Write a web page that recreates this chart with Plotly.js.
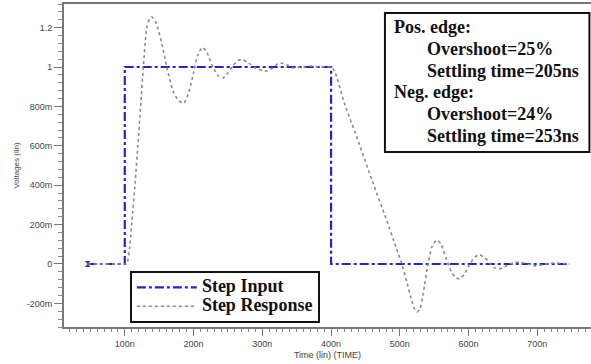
<!DOCTYPE html>
<html>
<head>
<meta charset="utf-8">
<script src="https://cdn.plot.ly/plotly-3.0.1.min.js"></script>
<style>html,body{margin:0;padding:0;background:#fff;}#chart{width:591px;height:364px;}</style>
</head>
<body>
<div id="chart"></div>
<script>
// Step input (time in ns, voltage in V)
const stepTime = [46, 100, 100, 400, 400, 747];
const stepVolt = [0, 0, 1, 1, 0, 0];

// Step response
const respTime = [46, 100, 103, 107, 110, 115, 119, 123, 127, 132, 136, 139.5, 146, 155, 163, 170, 178, 186,
  193, 200, 206, 213, 220, 228, 236, 243, 250, 258, 265, 272, 280, 290, 300, 307, 315, 322, 328, 336, 345,
  355, 370, 385, 400, 405, 420, 440, 460, 480, 495, 503, 510, 516, 521, 525, 529, 534, 541, 547, 554, 560,
  567, 575, 581, 587, 594, 602, 609, 616, 624, 632, 638, 645, 652, 660, 667, 674, 686, 699, 712, 725, 747];
const respVolt = [0, 0, 0, 0.08, 0.2, 0.41, 0.6, 0.8, 1.0, 1.2, 1.245, 1.254, 1.22, 1.1, 0.97, 0.88, 0.83, 0.817,
  0.87, 0.97, 1.06, 1.10, 1.07, 1.0, 0.955, 0.944, 0.97, 1.01, 1.034, 1.036, 1.02, 0.995, 0.982, 0.98, 0.995,
  1.015, 1.02, 1.01, 0.995, 1.0, 1.005, 1.0, 1.0, 0.98, 0.81, 0.62, 0.42, 0.23, 0.08, 0, -0.09, -0.17, -0.225,
  -0.244, -0.23, -0.15, 0, 0.09, 0.122, 0.1, 0.03, -0.04, -0.068, -0.076, -0.05, 0, 0.035, 0.046, 0.03, 0,
  -0.02, -0.025, -0.015, 0, 0.008, 0.01, 0, -0.01, 0, 0.005, 0];

const yTickVals = [-0.2, 0, 0.2, 0.4, 0.6, 0.8, 1, 1.2];
const yTickText = ['-200m', '0', '200m', '400m', '600m', '800m', '1', '1.2'];
const xTickVals = [100, 200, 300, 400, 500, 600, 700];
const xTickText = ['100n', '200n', '300n', '400n', '500n', '600n', '700n'];

const seriesNames = ['Step Input', 'Step Response'];
const infoLines = ['Pos. edge:', 'Overshoot=25%', 'Settling time=205ns', 'Neg. edge:', 'Overshoot=24%', 'Settling time=253ns'];
const infoIndent = [0, 1, 1, 0, 1, 1];

const serif = '"Liberation Serif", "DejaVu Serif", serif';
const big = s => '<span style="font-size:18px"><b>' + s + '</b></span>';

const traces = [
  {x: stepTime, y: stepVolt, name: big(seriesNames[0]), mode: 'lines',
   line: {color: '#2424c8', width: 2.2, dash: 'dashdot'}},
  {x: respTime, y: respVolt, name: big(seriesNames[1]), mode: 'lines',
   line: {color: '#8a8a8a', width: 1.6, dash: 'dot', shape: 'spline', smoothing: 0.6}},
  {x: [stepTime[0]], y: [stepVolt[0]], mode: 'markers', showlegend: false, hoverinfo: 'skip',
   marker: {symbol: 'hourglass', size: 6, color: '#3a3ad0'}}
];

const annotations = infoLines.map((t, i) => ({
  xref: 'paper', yref: 'paper',
  x: infoIndent[i] ? 0.685 : 0.622,
  y: [0.929, 0.861, 0.793, 0.727, 0.659, 0.591][i],
  xanchor: 'left', yanchor: 'middle', showarrow: false,
  text: '<b>' + t + '</b>', font: {family: serif, size: 18, color: '#111'}
}));

const layout = {
  width: 591, height: 364,
  margin: {l: 64, r: 0, t: 4, b: 37},
  paper_bgcolor: '#fff', plot_bgcolor: '#fff',
  showlegend: true,
  legend: {x: 0.125, y: 0.174, xanchor: 'left', yanchor: 'top',
    bgcolor: '#fff', bordercolor: '#111', borderwidth: 2,
    font: {family: serif, size: 12, color: '#111'},
    itemwidth: 60, tracegroupgap: 0},
  xaxis: {range: [11.6, 778], showgrid: false, zeroline: false,
    showline: true, linecolor: '#777', linewidth: 2, mirror: true,
    ticks: 'outside', ticklen: 7, tickcolor: '#777', tickwidth: 1,
    tickvals: xTickVals, ticktext: xTickText,
    minor: {dtick: 10, tick0: 0, ticks: 'outside', ticklen: 3, tickcolor: '#888', showgrid: false},
    tickfont: {family: 'Arial, Liberation Sans, sans-serif', size: 9, color: '#444'},
    title: {text: 'Time (lin) (TIME)', standoff: 4, font: {family: 'Arial, Liberation Sans, sans-serif', size: 9, color: '#444'}}},
  yaxis: {range: [-0.32, 1.32], showgrid: false, zeroline: false,
    showline: true, linecolor: '#777', linewidth: 2,
    ticks: 'outside', ticklen: 8, tickcolor: '#777', tickwidth: 1,
    tickvals: yTickVals, ticktext: yTickText,
    minor: {dtick: 0.04, tick0: 0, ticks: 'outside', ticklen: 4, tickcolor: '#888', showgrid: false},
    tickfont: {family: 'Arial, Liberation Sans, sans-serif', size: 9, color: '#444'},
    title: {text: 'Voltages (lin)', standoff: 6, font: {family: 'Arial, Liberation Sans, sans-serif', size: 8, color: '#444'}}},
  shapes: [{type: 'rect', xref: 'paper', yref: 'paper', x0: 0.609, x1: 0.997, y0: 0.542, y1: 0.972,
    line: {color: '#111', width: 2}, fillcolor: 'rgba(0,0,0,0)'}],
  annotations: annotations
};

Plotly.newPlot('chart', traces, layout, {displayModeBar: false, staticPlot: true});
</script>
</body>
</html>
